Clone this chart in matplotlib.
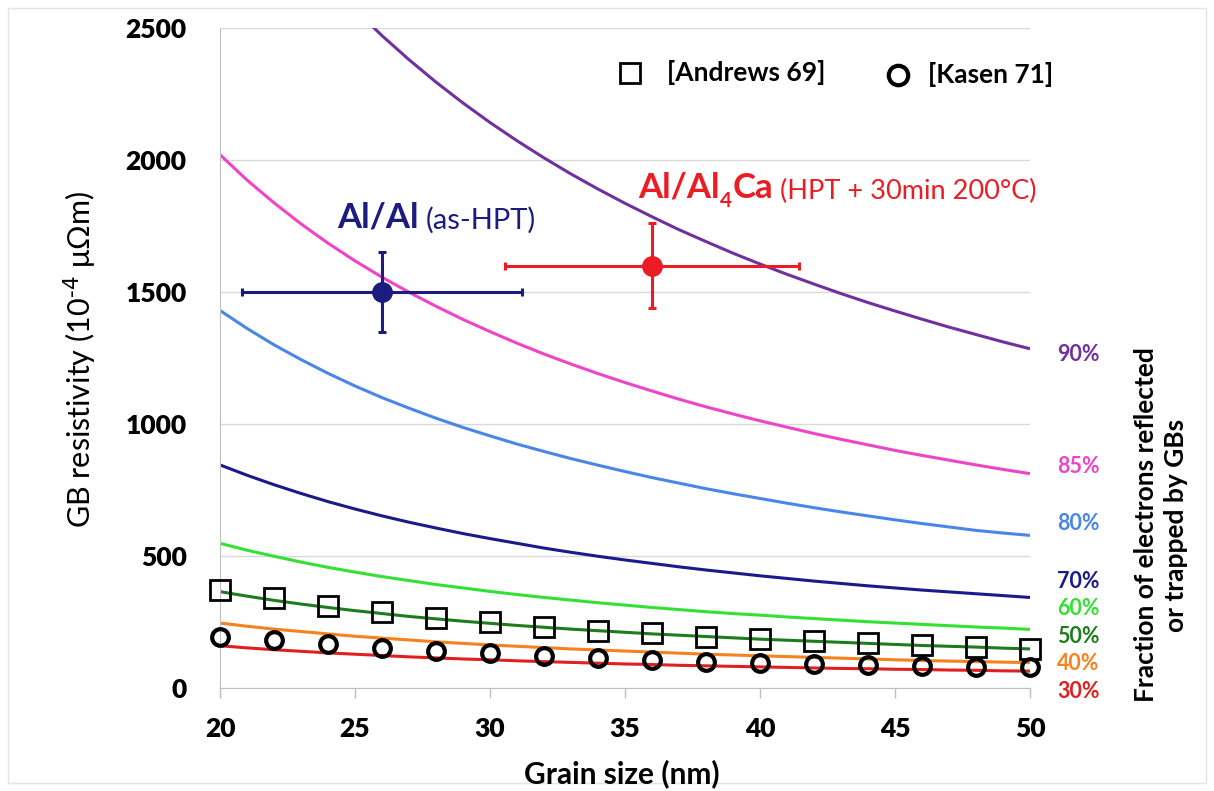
import matplotlib
matplotlib.use("Agg")
import matplotlib.pyplot as plt
from matplotlib.patches import Rectangle

plt.rcParams['font.family'] = ['Lato', 'DejaVu Sans']

# grain size (nm) at which the model curves are read
grain_fit = list(range(20, 51))

# GB resistivity (1e-4 uOhm m) for each reflected/trapped fraction
fractions = ['90%', '85%', '80%', '70%', '60%', '50%', '40%', '30%']
rho_90 = [3212, 3060, 2920, 2793, 2677, 2570, 2471, 2380, 2295, 2216, 2142, 2073, 2008, 1947, 1890, 1836,
          1785, 1736, 1691, 1647, 1606, 1567, 1530, 1494, 1460, 1428, 1397, 1367, 1339, 1311, 1285]
rho_85 = [2020, 1924, 1838, 1758, 1685, 1618, 1556, 1499, 1446, 1396, 1350, 1306, 1265, 1227, 1191, 1157,
          1125, 1094, 1065, 1038, 1012, 988, 964, 942, 921, 900, 881, 863, 845, 828, 812]
rho_80 = [1430, 1362, 1300, 1244, 1192, 1144, 1100, 1060, 1022, 987, 955, 924, 896, 869, 844, 820,
          797, 776, 755, 736, 718, 700, 683, 667, 652, 637, 623, 610, 597, 587, 578]
rho_70 = [845, 806, 770, 737, 706, 678, 652, 628, 606, 585, 566, 548, 530, 514, 499, 485,
          472, 459, 447, 436, 425, 415, 405, 396, 387, 379, 371, 364, 357, 350, 343]
rho_60 = [548, 522, 499, 477, 457, 439, 422, 407, 392, 379, 366, 354, 343, 333, 323, 314,
          305, 297, 289, 282, 276, 269, 263, 257, 251, 246, 241, 236, 231, 227, 222]
rho_50 = [365, 348, 332, 318, 305, 293, 282, 271, 262, 253, 245, 237, 230, 223, 217, 211,
          205, 200, 195, 190, 185, 181, 177, 173, 169, 165, 161, 158, 155, 151, 148]
rho_40 = [246, 234, 223, 214, 205, 196, 189, 182, 175, 169, 163, 158, 153, 148, 144, 140,
          136, 132, 128, 125, 122, 119, 116, 113, 110, 107, 104, 102, 100, 98, 96]
rho_30 = [160, 152, 145, 139, 133, 128, 123, 118, 114, 110, 107, 103, 100, 97, 94, 91,
          89, 86, 84, 82, 80, 78, 76, 74, 73, 71, 70, 68, 67, 65, 64]
curves = [rho_90, rho_85, rho_80, rho_70, rho_60, rho_50, rho_40, rho_30]
colors = ['#7030A0', '#EE44C8', '#4A86E8', '#1A1A8A', '#33E033', '#1E7B1E', '#F5821F', '#E02020']
label_y = [1265, 840, 625, 405, 300, 195, 92, -12]

# literature data
grain_lit = [20, 22, 24, 26, 28, 30, 32, 34, 36, 38, 40, 42, 44, 46, 48, 50]
andrews = [371, 341, 310, 288, 265, 250, 231, 216, 208, 193, 185, 178, 171, 163, 156, 148]
kasen = [193, 182, 167, 153, 140, 132, 121, 114, 106, 99, 95, 91, 88, 83, 80, 80]

# measured points: grain size, resistivity, errors
alal = dict(x=26, y=1500, xerr=5.2, yerr=150)
alca = dict(x=36, y=1600, xerr=5.45, yerr=160)

navy = '#1C1C80'
red = '#EC1C24'
grid_c = '#D9D9D9'
axis_c = '#BFBFBF'

fig = plt.figure(figsize=(12.14, 7.91), dpi=100)
ax = fig.add_axes([220 / 1214, 1 - 688 / 791, 810 / 1214, 660 / 791])

for vals, c in zip(curves, colors):
    ax.plot(grain_fit, vals, color=c, lw=2.2, solid_capstyle='butt', zorder=2)

ax.plot(grain_lit, andrews, 's', ms=14, mfc='none', mec='black', mew=2, clip_on=False, zorder=3)
ax.plot(grain_lit, kasen, 'o', ms=12, mfc='none', mec='black', mew=3, clip_on=False, zorder=3)

ax.errorbar(alal['x'], alal['y'], xerr=alal['xerr'], yerr=alal['yerr'], fmt='o', color=navy,
            ms=14, elinewidth=2.2, capsize=3, capthick=2.2, zorder=4)
ax.errorbar(alca['x'], alca['y'], xerr=alca['xerr'], yerr=alca['yerr'], fmt='o', color=red,
            ms=14, elinewidth=2.2, capsize=3, capthick=2.2, zorder=4)

ax.set_xlim(20, 50)
ax.set_ylim(0, 2500)
ax.set_xticks(range(20, 51, 5))
ax.set_yticks(range(0, 2501, 500))
ax.grid(axis='y', color=grid_c, lw=1)
ax.set_axisbelow(True)
for s in ['top', 'right']:
    ax.spines[s].set_visible(False)
for s in ['left', 'bottom']:
    ax.spines[s].set_color(axis_c)
ax.tick_params(axis='x', direction='out', length=7, width=1, color=axis_c, pad=14, labelsize=19)
ax.tick_params(axis='y', length=0, pad=24, labelsize=19)
for lab in ax.get_xticklabels() + ax.get_yticklabels():
    lab.set_fontweight('heavy')

# fraction labels to the right of the curves
for txt, c, yl in zip(fractions, colors, label_y):
    ax.text(51.0, yl, txt, color=c, fontsize=15.5, fontweight='bold', va='center', ha='left', clip_on=False)

# sample annotations
t1 = ax.text(24.33, 1722, 'Al/Al', color=navy, fontsize=25, fontweight='bold', va='bottom')
ax.annotate('(as-HPT)', xy=(1, 0), xycoords=t1, xytext=(5, 0), textcoords='offset points',
            color=navy, fontsize=21, va='bottom', ha='left')
r1 = ax.text(35.48, 1834, 'Al/Al', color=red, fontsize=25, fontweight='bold', va='bottom')
r2 = ax.annotate('4', xy=(1, 0), xycoords=r1, xytext=(0.5, -5), textcoords='offset points',
                 color=red, fontsize=15, fontweight='bold', va='bottom', ha='left')
r3 = ax.annotate('Ca', xy=(1, 0), xycoords=(r2, r1), xytext=(0.5, 0), textcoords='offset points',
                 color=red, fontsize=25, fontweight='bold', va='bottom', ha='left')
ax.annotate('(HPT + 30min 200°C)', xy=(1, 0), xycoords=(r3, r1), xytext=(5, 0), textcoords='offset points',
            color=red, fontsize=19.5, va='bottom', ha='left')

# literature key
ax.plot([0.506], [0.932], 's', transform=ax.transAxes, ms=15, mfc='none', mec='black', mew=2, clip_on=False)
ax.text(0.552, 0.932, '[Andrews 69]', transform=ax.transAxes, fontsize=19, fontweight='bold', va='center')
ax.plot([0.837], [0.929], 'o', transform=ax.transAxes, ms=14, mfc='none', mec='black', mew=3, clip_on=False)
ax.text(0.874, 0.929, '[Kasen 71]', transform=ax.transAxes, fontsize=19, fontweight='bold', va='center')

fig.text(80 / 1214, 1 - 360 / 791, r'GB resistivity (10$^{\text{-4}}$ μΩm)', rotation=90,
         fontsize=22, ha='center', va='center')
fig.text(622 / 1214, 1 - 774 / 791, 'Grain size (nm)', fontsize=21.5, fontweight='bold',
         ha='center', va='center')
fig.text(1161 / 1214, 1 - 525 / 791, 'Fraction of electrons reflected\nor trapped by GBs', rotation=90,
         fontsize=19, fontweight='bold', ha='center', va='center', multialignment='center', linespacing=1.35)

fig.patches.append(Rectangle((8 / 1214, 8 / 791), 1198 / 1214, 775 / 791, transform=fig.transFigure,
                             fill=False, edgecolor='#E4E4E4', lw=1))

fig.savefig('out.png', dpi=100)
